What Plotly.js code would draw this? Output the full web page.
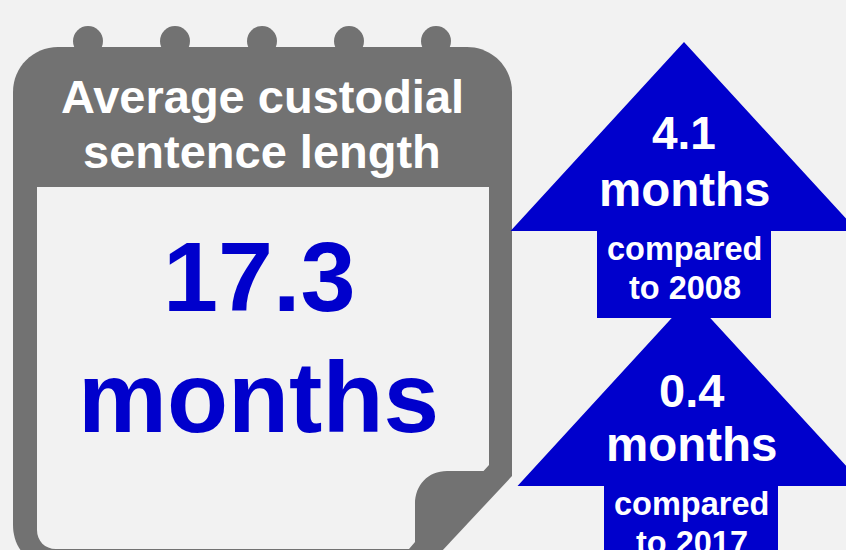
<!DOCTYPE html>
<html>
<head>
<meta charset="utf-8">
<script src="https://cdn.plot.ly/plotly-3.0.1.min.js"></script>
<style>html,body{margin:0;padding:0;background:#f2f2f2}#c{width:846px;height:550px}</style>
</head>
<body>
<div id="c"></div>
<script>
var headline = ["Average custodial", "sentence length"];
var mainValue = "17.3";
var unit = "months";
var change2008 = "4.1";
var change2017 = "0.4";
var compare2008 = ["compared", "to 2008"];
var compare2017 = ["compared", "to 2017"];
var ringCentres = [88, 175, 262, 349, 436];

var GREY = "#727272", BLUE = "#0000cc", BG = "#f2f2f2", WHITE = "#ffffff";

function arrow(cx, tip, base, shaftBottom) {
  var hw = 173.5, sw = 87;
  return {type: "path", xref: "x", yref: "y", fillcolor: BLUE, line: {width: 0},
    path: "M" + cx + "," + tip + " L" + (cx + hw) + "," + base + " L" + (cx + sw) + "," + base +
      " L" + (cx + sw) + "," + shaftBottom + " L" + (cx - sw) + "," + shaftBottom +
      " L" + (cx - sw) + "," + base + " L" + (cx - hw) + "," + base + " Z"};
}

var shapes = [];
ringCentres.forEach(function (x) {
  shapes.push({type: "circle", xref: "x", yref: "y", x0: x - 15, x1: x + 15, y0: 26, y1: 56,
    fillcolor: GREY, line: {width: 0}});
});
shapes.push({type: "path", xref: "x", yref: "y", fillcolor: GREY, line: {width: 0},
  path: "M13,92 C13,67 33,47 58,47 L467,47 C492,47 512,67 512,92 L512,476 L441,552 L22,552 C16,545 13,535 13,525 Z"});
shapes.push({type: "path", xref: "x", yref: "y", fillcolor: BG, line: {width: 0},
  path: "M37,187 L489,187 L489,465 L483.5,471 L447,471 C428,471 415,485 415,504 L415,542 L409,549 L56,549 C45,549 37,541 37,530 Z"});
shapes.push(arrow(691, 297, 486, 560));
shapes.push(arrow(684, 42, 231, 318));

function label(text, x, y, size, color) {
  return {text: "<b>" + text + "</b>", x: x, y: y, xref: "x", yref: "y", showarrow: false,
    xanchor: "center", yanchor: "middle",
    font: {family: "Liberation Sans, Arial, sans-serif", size: size, color: color}};
}

var annotations = [
  label(headline[0], 262.5, 96.5, 47, WHITE),
  label(headline[1], 262, 151.5, 47, WHITE),
  label(mainValue, 259.5, 276.5, 99, BLUE),
  label(unit, 258.5, 396.5, 100, BLUE),
  label(change2008, 684, 133, 46, WHITE),
  label(unit, 685, 189, 47.5, WHITE),
  label(compare2008[0], 684.5, 248.5, 32.5, WHITE),
  label(compare2008[1], 684.5, 287.5, 32.5, WHITE),
  label(change2017, 691.5, 390, 47, WHITE),
  label(unit, 692, 444, 47.5, WHITE),
  label(compare2017[0], 691, 503.5, 32.5, WHITE),
  label(compare2017[1], 691.5, 542.5, 32.5, WHITE)
];

Plotly.newPlot("c", [{x: [0], y: [0], mode: "markers", marker: {opacity: 0}, hoverinfo: "skip", showlegend: false}], {
  width: 846, height: 550,
  margin: {l: 0, r: 0, t: 0, b: 0},
  paper_bgcolor: BG, plot_bgcolor: BG,
  showlegend: false,
  xaxis: {range: [0, 846], visible: false, fixedrange: true},
  yaxis: {range: [550, 0], visible: false, fixedrange: true},
  shapes: shapes,
  annotations: annotations
}, {displayModeBar: false, staticPlot: true});
</script>
</body>
</html>
